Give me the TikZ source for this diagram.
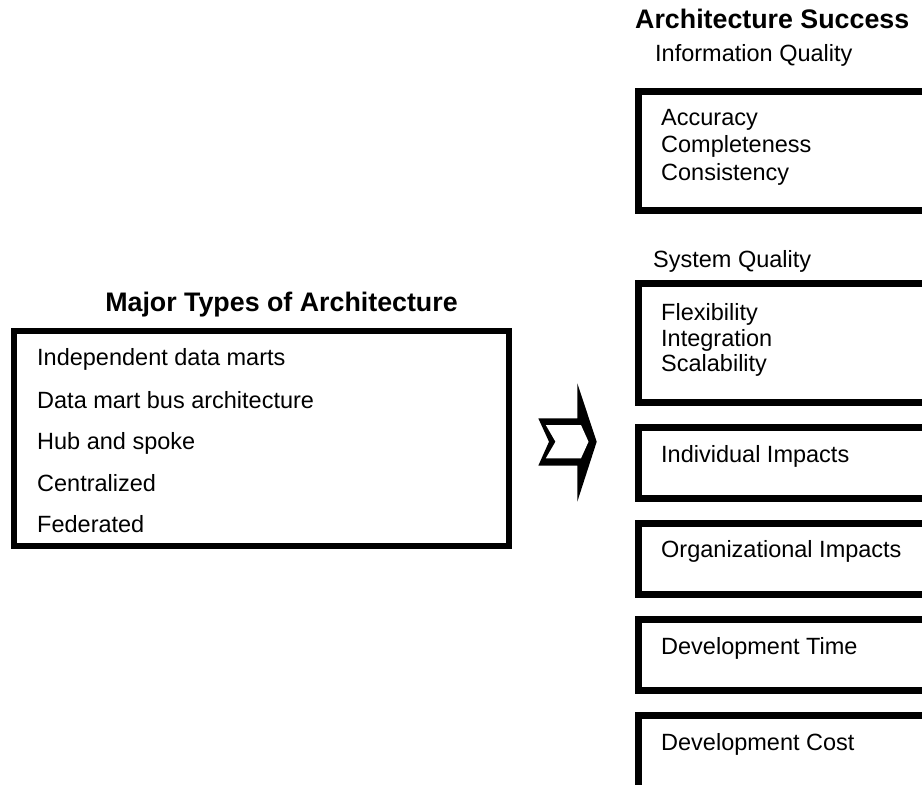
\documentclass[tikz,border=0pt]{standalone}
\usepackage{fontspec}
\setmainfont{Liberation Sans}
\tikzset{
  heading/.style={font=\fontsize{26.8}{32}\selectfont\bfseries, inner sep=0pt},
  item/.style={font=\fontsize{23.5}{28}\selectfont, inner sep=0pt, anchor=base west},
  outbox/.style={draw, line width=7pt, outer sep=0pt, anchor=north west, minimum width=320pt},
}
\begin{document}
\begin{tikzpicture}[x=1pt,y=-1pt]
\useasboundingbox (0,0) rectangle (922,785);
\clip (0,0) rectangle (922,785);
% left side
\node [heading, anchor=base] (major) at (281.5,311.7) {Major Types of Architecture};
\node [draw, line width=6.5pt, outer sep=0pt, anchor=north west,
  minimum width=495pt, minimum height=215pt] (types) at (14,331) {};
\node [item] (indep) at (37,365.7) {Independent data marts};
\node [item] (bus) at (37,408.3) {Data mart bus architecture};
\node [item] (hub) at (37,449.3) {Hub and spoke};
\node [item] (central) at (37,491.7) {Centralized};
\node [item] (fed) at (37,532.7) {Federated};
% block arrow
\fill (538.3,418.3) -- (577.3,418.3) -- (577.3,383.3) -- (596.7,441.7)
  -- (577.3,501.7) -- (577.3,465.7) -- (538.3,465.7) -- (549,441.7) -- cycle;
\fill [white] (545.8,425) -- (581,425) -- (588.5,441.7) -- (581,458.3)
  -- (545.8,458.3) -- (555.5,441.7) -- cycle;
% right side
\node [heading, anchor=base west] (success) at (635,28) {Architecture Success};
\node [item] (infoq) at (655,61.7) {Information Quality};
\node [outbox, minimum height=118.5pt] (infobox) at (638,91.5) {};
\node [item] (acc) at (661,125) {Accuracy};
\node [item] (compl) at (661,152.7) {Completeness};
\node [item] (consist) at (661,180) {Consistency};
\node [item] (sysq) at (653,267) {System Quality};
\node [outbox, minimum height=119pt] (sysbox) at (638,283) {};
\node [item] (flex) at (661,320) {Flexibility};
\node [item] (integ) at (661,346) {Integration};
\node [item] (scal) at (661,371.7) {Scalability};
\node [outbox, minimum height=71.5pt] (indbox) at (638,427) {};
\node [item] (indimp) at (661,462) {Individual Impacts};
\node [outbox, minimum height=71pt] (orgbox) at (638,523.5) {};
\node [item] (orgimp) at (661,557) {Organizational Impacts};
\node [outbox, minimum height=71pt] (timebox) at (638,619.5) {};
\node [item] (devtime) at (661,654) {Development Time};
\node [outbox, minimum height=100pt] (costbox) at (638,715) {};
\node [item] (devcost) at (661,750) {Development Cost};
\end{tikzpicture}
\end{document}
